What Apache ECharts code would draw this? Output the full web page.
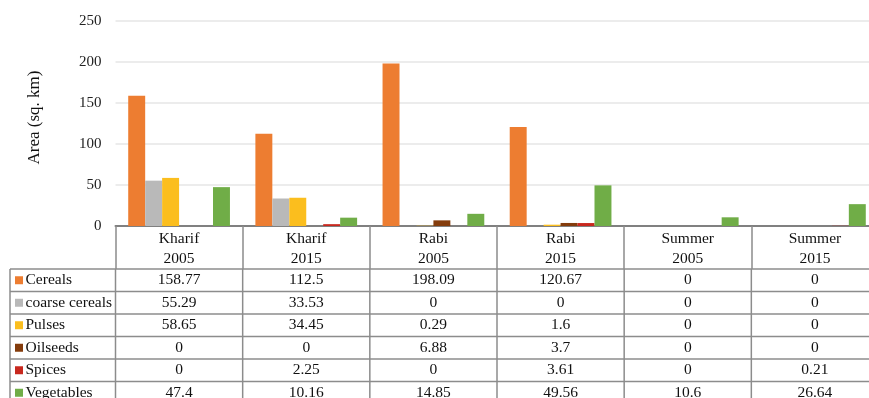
<!DOCTYPE html>
<html><head><meta charset="utf-8">
<script src="https://cdn.jsdelivr.net/npm/echarts@6/dist/echarts.min.js"></script>
<style>html,body{margin:0;padding:0;background:#fff}#c{width:869px;height:398px}</style>
</head><body><div id="c"></div>
<script>
var categories = ['Kharif\n2005','Kharif\n2015','Rabi\n2005','Rabi\n2015','Summer\n2005','Summer\n2015'];
var seriesNames = ['Cereals','coarse cereals','Pulses','Oilseeds','Spices','Vegetables'];
var cereals = [158.77,112.5,198.09,120.67,0,0];
var coarseCereals = [55.29,33.53,0,0,0,0];
var pulses = [58.65,34.45,0.29,1.6,0,0];
var oilseeds = [0,0,6.88,3.7,0,0];
var spices = [0,2.25,0,3.61,0,0.21];
var vegetables = [47.4,10.16,14.85,49.56,10.6,26.64];
var yTicks = [0,50,100,150,200,250];
var colors = ['#ED7D31','#B9B9B9','#FBBE1E','#843C0C','#C8281E','#70AD47'];
var allData = [cereals,coarseCereals,pulses,oilseeds,spices,vegetables];
var FONT = '"Liberation Serif","Times New Roman",serif';
var FS = 15.5;

var chart = echarts.init(document.getElementById('c'));
var lineCol = '#8C8C8C';
chart.setOption({
  animation:false,
  grid:{left:115.5,width:763,top:21,height:205,containLabel:false,outerBoundsMode:'none'},
  xAxis:{type:'category',data:categories,
    axisLine:{lineStyle:{color:'#808080',width:2}},
    axisTick:{show:true,length:43,lineStyle:{color:lineCol,width:1.5}},
    axisLabel:{fontFamily:FONT,fontSize:FS,color:'#111',lineHeight:20,margin:3,interval:0}},
  yAxis:{type:'value',min:0,max:250,interval:50,
    axisLine:{show:false},axisTick:{show:false},
    axisLabel:{fontFamily:FONT,fontSize:15,color:'#222',margin:14,
      formatter:function(v){return yTicks.indexOf(v)>=0?String(v):'';}},
    splitLine:{lineStyle:{color:'#E6E6E6',width:1.5}}},
  series:allData.map(function(d,i){return {name:seriesNames[i],type:'bar',data:d,
    barGap:'0%',barCategoryGap:'20%',itemStyle:{color:colors[i]}};})
});

// table built from the axis scale
var n = categories.length;
var c0 = chart.convertToPixel({xAxisIndex:0},0);
var c1 = chart.convertToPixel({xAxisIndex:0},1);
var bw = c1-c0;
var bounds = [];
for (var i=0;i<=n;i++) bounds.push(c0-bw/2+i*bw);
var top0 = 269, rowH = 22.5, leftX = 10;
var g = [];
g.push({type:'text',rotation:Math.PI/2,x:35,y:117.5,style:{text:'Area (sq. km)',x:0,y:0,
  align:'center',textAlign:'center',verticalAlign:'middle',textVerticalAlign:'middle',
  font:'17px '+FONT,fill:'#111'}});
var totalRows = seriesNames.length;
for (var r=0;r<=totalRows;r++){
  var y = top0 + r*rowH;
  g.push({type:'line',shape:{x1:leftX,y1:y,x2:bounds[n],y2:y},style:{stroke:lineCol,lineWidth:1.5},silent:true});
}
var yBottom = top0 + totalRows*rowH;
g.push({type:'line',shape:{x1:leftX,y1:top0,x2:leftX,y2:yBottom},style:{stroke:lineCol,lineWidth:1.5}});
bounds.forEach(function(x){
  g.push({type:'line',shape:{x1:x,y1:top0,x2:x,y2:yBottom},style:{stroke:lineCol,lineWidth:1.5}});
});
for (var r=0;r<totalRows;r++){
  var yc = top0 + r*rowH + rowH/2;
  g.push({type:'rect',shape:{x:15,y:yc-4,width:8,height:8},style:{fill:colors[r]}});
  g.push({type:'text',style:{text:seriesNames[r],x:25.5,y:yc,textVerticalAlign:'middle',verticalAlign:'middle',
    font:FS+'px '+FONT,fill:'#111'}});
  for (var c=0;c<n;c++){
    g.push({type:'text',style:{text:String(allData[r][c]),x:(bounds[c]+bounds[c+1])/2,y:yc,
      align:'center',textAlign:'center',verticalAlign:'middle',textVerticalAlign:'middle',
      font:FS+'px '+FONT,fill:'#111'}});
  }
}
chart.setOption({graphic:{elements:g}});
</script></body></html>
